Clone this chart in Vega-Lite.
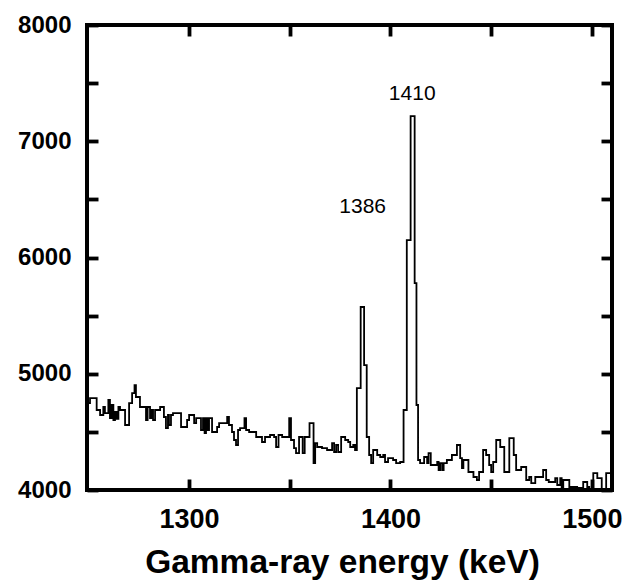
{
  "$schema": "https://vega.github.io/schema/vega-lite/v6.json",
  "width": 525,
  "height": 465,
  "autosize": "none",
  "padding": {"left": 87, "top": 25, "right": 19, "bottom": 95},
  "background": "white",
  "config": {
    "view": {"stroke": "black", "strokeWidth": 4},
    "font": "Liberation Sans"
  },
  "datasets": {
    "spectrum": [
      {"e": 1249.3, "c": 4748}, {"e": 1250.8, "c": 4791}, {"e": 1254.1, "c": 4688}, {"e": 1255.8, "c": 4645},
      {"e": 1257.4, "c": 4714}, {"e": 1258.2, "c": 4662}, {"e": 1259.9, "c": 4774}, {"e": 1260.7, "c": 4619},
      {"e": 1261.6, "c": 4731}, {"e": 1262.4, "c": 4602}, {"e": 1263.2, "c": 4671}, {"e": 1264.1, "c": 4611},
      {"e": 1264.9, "c": 4714}, {"e": 1265.7, "c": 4688}, {"e": 1268.2, "c": 4559}, {"e": 1270.2, "c": 4748},
      {"e": 1271.7, "c": 4834}, {"e": 1272.9, "c": 4903}, {"e": 1273.6, "c": 4800}, {"e": 1275.6, "c": 4714},
      {"e": 1278.6, "c": 4602}, {"e": 1279.4, "c": 4714}, {"e": 1280.6, "c": 4619}, {"e": 1281.3, "c": 4688},
      {"e": 1282.1, "c": 4602}, {"e": 1283.1, "c": 4688}, {"e": 1285.6, "c": 4714}, {"e": 1287.5, "c": 4628},
      {"e": 1288.5, "c": 4533}, {"e": 1289.5, "c": 4645}, {"e": 1290.0, "c": 4559}, {"e": 1291.0, "c": 4645},
      {"e": 1292.0, "c": 4662}, {"e": 1296.0, "c": 4542}, {"e": 1299.0, "c": 4602}, {"e": 1300.0, "c": 4645},
      {"e": 1302.5, "c": 4576}, {"e": 1303.5, "c": 4619}, {"e": 1305.9, "c": 4516}, {"e": 1306.9, "c": 4619},
      {"e": 1307.7, "c": 4490}, {"e": 1308.4, "c": 4619}, {"e": 1309.2, "c": 4516}, {"e": 1309.9, "c": 4619},
      {"e": 1311.4, "c": 4499}, {"e": 1313.9, "c": 4542}, {"e": 1314.9, "c": 4576}, {"e": 1318.9, "c": 4628},
      {"e": 1319.8, "c": 4559}, {"e": 1321.3, "c": 4499}, {"e": 1322.3, "c": 4430}, {"e": 1323.3, "c": 4387},
      {"e": 1324.3, "c": 4516}, {"e": 1325.3, "c": 4533}, {"e": 1327.5, "c": 4619}, {"e": 1328.3, "c": 4516},
      {"e": 1329.8, "c": 4499}, {"e": 1333.3, "c": 4456}, {"e": 1336.2, "c": 4413}, {"e": 1337.7, "c": 4456},
      {"e": 1340.2, "c": 4473}, {"e": 1342.2, "c": 4456}, {"e": 1343.2, "c": 4370}, {"e": 1344.4, "c": 4473},
      {"e": 1346.2, "c": 4456}, {"e": 1349.7, "c": 4619}, {"e": 1350.6, "c": 4430}, {"e": 1352.1, "c": 4361},
      {"e": 1353.1, "c": 4318}, {"e": 1354.6, "c": 4456}, {"e": 1356.4, "c": 4318}, {"e": 1357.4, "c": 4456},
      {"e": 1359.8, "c": 4576}, {"e": 1361.8, "c": 4232}, {"e": 1362.6, "c": 4404}, {"e": 1363.6, "c": 4370},
      {"e": 1366.0, "c": 4361}, {"e": 1368.5, "c": 4344}, {"e": 1371.0, "c": 4404}, {"e": 1372.0, "c": 4327},
      {"e": 1373.0, "c": 4387}, {"e": 1374.0, "c": 4327}, {"e": 1375.5, "c": 4456}, {"e": 1377.5, "c": 4430},
      {"e": 1379.0, "c": 4413}, {"e": 1380.0, "c": 4370}, {"e": 1381.5, "c": 4387}, {"e": 1382.4, "c": 4344},
      {"e": 1383.3, "c": 4877}, {"e": 1385.2, "c": 5574}, {"e": 1386.9, "c": 5075}, {"e": 1388.2, "c": 4456},
      {"e": 1389.4, "c": 4301}, {"e": 1390.4, "c": 4232}, {"e": 1391.4, "c": 4344}, {"e": 1393.4, "c": 4301},
      {"e": 1394.9, "c": 4284}, {"e": 1396.4, "c": 4301}, {"e": 1397.3, "c": 4241}, {"e": 1398.8, "c": 4275},
      {"e": 1401.3, "c": 4258}, {"e": 1402.8, "c": 4232}, {"e": 1404.8, "c": 4241}, {"e": 1406.5, "c": 4688},
      {"e": 1408.1, "c": 6150}, {"e": 1410.0, "c": 7216}, {"e": 1412.0, "c": 5780}, {"e": 1412.9, "c": 4731},
      {"e": 1413.7, "c": 4258}, {"e": 1414.7, "c": 4232}, {"e": 1416.7, "c": 4284}, {"e": 1418.2, "c": 4232},
      {"e": 1418.9, "c": 4318}, {"e": 1420.0, "c": 4215}, {"e": 1423.2, "c": 4241}, {"e": 1423.9, "c": 4172},
      {"e": 1424.7, "c": 4232}, {"e": 1425.7, "c": 4172}, {"e": 1426.4, "c": 4232}, {"e": 1428.0, "c": 4258},
      {"e": 1430.5, "c": 4301}, {"e": 1433.0, "c": 4387}, {"e": 1434.6, "c": 4275}, {"e": 1435.5, "c": 4189},
      {"e": 1436.2, "c": 4258}, {"e": 1438.7, "c": 4155}, {"e": 1441.2, "c": 4112}, {"e": 1442.9, "c": 4086},
      {"e": 1444.0, "c": 4155}, {"e": 1446.0, "c": 4344}, {"e": 1447.5, "c": 4301}, {"e": 1449.0, "c": 4215},
      {"e": 1450.0, "c": 4155}, {"e": 1451.0, "c": 4241}, {"e": 1452.5, "c": 4430}, {"e": 1454.5, "c": 4370},
      {"e": 1456.5, "c": 4155}, {"e": 1459.0, "c": 4447}, {"e": 1461.2, "c": 4301}, {"e": 1462.4, "c": 4172},
      {"e": 1464.9, "c": 4198}, {"e": 1467.4, "c": 4086}, {"e": 1468.9, "c": 4112}, {"e": 1469.9, "c": 4060},
      {"e": 1471.9, "c": 4112}, {"e": 1475.8, "c": 4172}, {"e": 1477.3, "c": 4086}, {"e": 1478.6, "c": 4069},
      {"e": 1481.8, "c": 4103}, {"e": 1482.8, "c": 4043}, {"e": 1484.3, "c": 4103}, {"e": 1485.0, "c": 4000},
      {"e": 1485.8, "c": 4086}, {"e": 1488.8, "c": 4026}, {"e": 1492.7, "c": 4017}, {"e": 1495.7, "c": 4069},
      {"e": 1497.7, "c": 4026}, {"e": 1498.7, "c": 4000}, {"e": 1500.7, "c": 4146}, {"e": 1502.7, "c": 4103},
      {"e": 1504.9, "c": 4000}, {"e": 1507.1, "c": 4146}, {"e": 1510.0, "c": 4146}
    ],
    "labels": [
      {"e": 1410.8, "c": 7354, "t": "1410"},
      {"e": 1386.2, "c": 6382, "t": "1386"}
    ]
  },
  "layer": [
    {
      "data": {"name": "spectrum"},
      "mark": {"type": "line", "interpolate": "step-after", "color": "black", "strokeWidth": 1.8, "clip": true},
      "encoding": {
        "x": {
          "field": "e", "type": "quantitative",
          "scale": {"domain": [1249.3, 1510], "nice": false, "zero": false},
          "axis": {
            "orient": "bottom",
            "values": [1300, 1350, 1400, 1450, 1500],
            "format": "d",
            "labelExpr": "datum.value % 100 === 0 ? datum.label : ''",
            "domain": false, "grid": false,
            "tickColor": "black", "tickSize": -11, "tickWidth": 3.8,
            "labelFont": "Liberation Sans", "labelFontWeight": "bold", "labelFontSize": 27, "labelColor": "black",
            "labelBaseline": "alphabetic", "labelPadding": 48, "labelFlush": false, "labelOverlap": false,
            "title": "Gamma-ray energy (keV)",
            "titleFont": "Liberation Sans", "titleFontWeight": "bold", "titleFontSize": 33.5, "titleColor": "black",
            "titleBaseline": "alphabetic", "titleAlign": "center", "titleAnchor": null,
            "titleX": 255, "titleY": 82
          }
        },
        "y": {
          "field": "c", "type": "quantitative",
          "scale": {"domain": [4000, 8000], "nice": false, "zero": false},
          "axis": {
            "orient": "left",
            "values": [4000, 4500, 5000, 5500, 6000, 6500, 7000, 7500, 8000],
            "format": "d",
            "labelExpr": "datum.value % 1000 === 0 ? datum.label : ''",
            "domain": false, "grid": false,
            "tickColor": "black", "tickSize": -11, "tickWidth": 3.8,
            "labelFont": "Liberation Sans", "labelFontWeight": "bold", "labelFontSize": 24, "labelColor": "black",
            "labelAlign": "right", "labelBaseline": "middle", "labelPadding": 27, "labelFlush": false, "labelOverlap": false,
            "title": null
          }
        }
      }
    },
    {
      "data": {"name": "labels"},
      "mark": {"type": "text", "font": "Liberation Sans", "fontSize": 21, "color": "black", "align": "center", "baseline": "alphabetic"},
      "encoding": {
        "x": {
          "field": "e", "type": "quantitative",
          "axis": {
            "orient": "top",
            "values": [1300, 1350, 1400, 1450, 1500],
            "labels": false, "domain": false, "grid": false,
            "tickColor": "black", "tickSize": -11, "tickWidth": 3.8,
            "title": null
          }
        },
        "y": {
          "field": "c", "type": "quantitative",
          "axis": {
            "orient": "right",
            "values": [4000, 4500, 5000, 5500, 6000, 6500, 7000, 7500, 8000],
            "labels": false, "domain": false, "grid": false,
            "tickColor": "black", "tickSize": -11, "tickWidth": 3.8,
            "title": null
          }
        },
        "text": {"field": "t", "type": "nominal"}
      }
    }
  ],
  "resolve": {"axis": {"x": "independent", "y": "independent"}}
}
